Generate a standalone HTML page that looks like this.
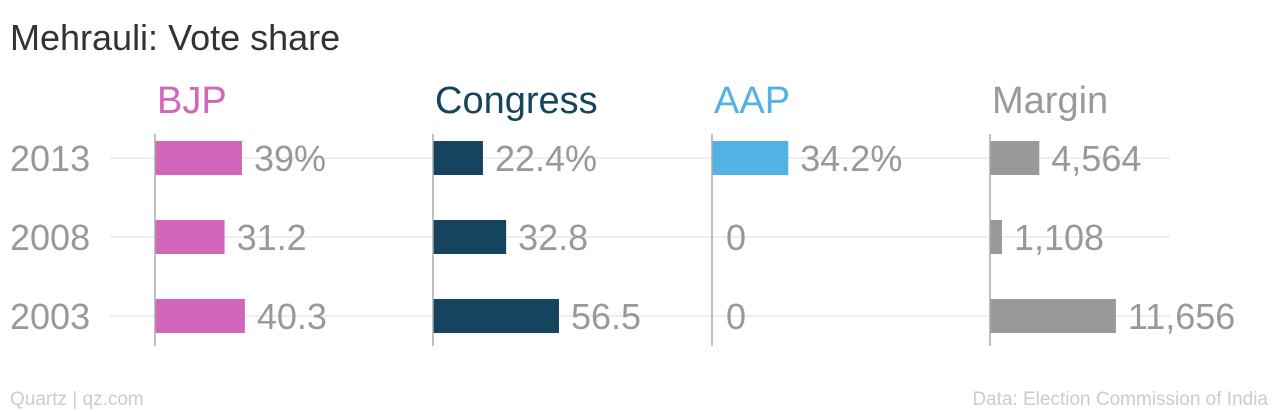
<!DOCTYPE html>
<html><head><meta charset="utf-8"><style>
html,body{margin:0;padding:0;background:#fff;width:1280px;height:412px;overflow:hidden}
svg text{font-family:"Liberation Sans",sans-serif}
</style></head><body>
<svg id="chart" width="1280" height="412" xmlns="http://www.w3.org/2000/svg">
<text x="10" y="50" font-size="36" fill="#333">Mehrauli: Vote share</text>
<g id="plot"></g>
<text x="10" y="405" font-size="19" fill="#ccc">Quartz | qz.com</text>
<text x="1268" y="405" font-size="19" fill="#ccc" text-anchor="end">Data: Election Commission of India</text>
</svg>
<script>
const years = ["2013","2008","2003"];
const parties = ["BJP","Congress","AAP","Margin"];
const bjp = [39,31.2,40.3];
const congress = [22.4,32.8,56.5];
const aap = [34.2,0,0];
const margin = [4564,1108,11656];
const bjpLabels = ["39%","31.2","40.3"];
const congressLabels = ["22.4%","32.8","56.5"];
const aapLabels = ["34.2%","0","0"];
const marginLabels = ["4,564","1,108","11,656"];

const NS="http://www.w3.org/2000/svg";
const plot=document.getElementById('plot');
const colX=[155,433,712,990];
const colors=["#d365ba","#15445f","#51b2e5","#999999"];
const series=[bjp,congress,aap,margin];
const labels=[bjpLabels,congressLabels,aapLabels,marginLabels];
const pctScale=v=>v*2.23;
const marginScale=v=>v*0.0108;
const scales=[pctScale,pctScale,pctScale,marginScale];
const rowY=i=>158+i*79;
function mk(tag,attrs){const e=document.createElementNS(NS,tag);for(const k in attrs)e.setAttribute(k,attrs[k]);plot.appendChild(e);return e;}

years.forEach((y,i)=>{
  const g=mk('line',{x1:110,x2:1170,y1:rowY(i),y2:rowY(i),stroke:'#eeeeee','stroke-width':2});
  
  
  const t=mk('text',{x:10,y:rowY(i)+13,'font-size':36,fill:'#999'});
  t.textContent=y;
  
  
});
parties.forEach((p,c)=>{
  const h=mk('text',{x:colX[c]+2,y:113,'font-size':38,fill:colors[c]});
  h.textContent=p;
  
  
  years.forEach((y,i)=>{
    const w=scales[c](series[c][i]);
    if(w>0){
      const r=mk('rect',{x:colX[c],y:rowY(i)-17,width:w,height:34,fill:colors[c]});
      
      
    }
    const t=mk('text',{x:colX[c]+w+(w>0?12:14),y:rowY(i)+13,'font-size':36,fill:'#999'});
    t.textContent=labels[c][i];
    
    
  });
  const a=mk('line',{x1:colX[c],x2:colX[c],y1:134,y2:346,stroke:'#aaa','stroke-width':1.5});
  
  
});
</script>
</body></html>
